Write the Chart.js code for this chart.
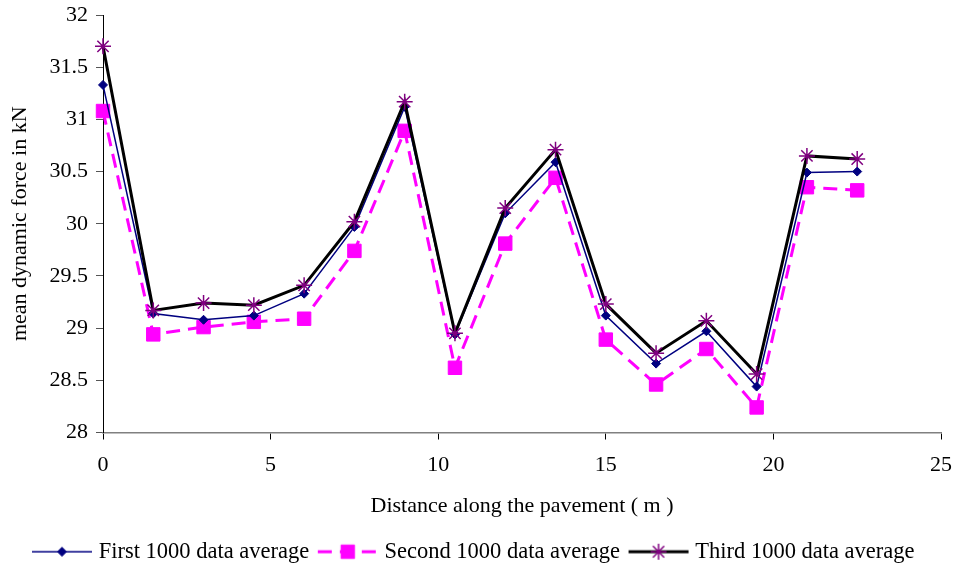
<!DOCTYPE html>
<html>
<head>
<meta charset="utf-8">
<title>mean dynamic force</title>
<script src="https://cdn.jsdelivr.net/npm/chart.js@4.4.1/dist/chart.umd.min.js"></script>
<style>
  html, body { margin: 0; padding: 0; background: #fff; }
  #wrap { width: 954px; height: 565px; }
</style>
</head>
<body>
<div id="wrap"><canvas id="forceChart" width="954" height="565"></canvas></div>
<script>
// values
const distances = [0, 1.5, 3, 4.5, 6, 7.5, 9, 10.5, 12, 13.5, 15, 16.5, 18, 19.5, 21, 22.5];
const firstAverage = [31.33, 29.14, 29.08, 29.12, 29.33, 29.97, 31.12, 28.94, 30.10, 30.59, 29.12, 28.66, 28.97, 28.44, 30.49, 30.50];
const secondAverage = [31.08, 28.94, 29.01, 29.06, 29.09, 29.74, 30.89, 28.62, 29.81, 30.44, 28.89, 28.46, 28.80, 28.24, 30.35, 30.32];
const thirdAverage = [31.70, 29.17, 29.24, 29.22, 29.41, 30.02, 31.17, 28.95, 30.15, 30.71, 29.23, 28.76, 29.07, 28.56, 30.65, 30.62];
const seriesNames = ['First 1000 data average', 'Second 1000 data average', 'Third 1000 data average'];
const yRange = [28, 32];
const xRange = [0, 25];

const FONT = 'Liberation Serif, Times New Roman, serif';

function toPoints(values) {
    return distances.map((d, i) => ({ x: d, y: values[i] }));
}

// small picture of line + marker for the legend
function legendSample(ds) {
    const c = document.createElement('canvas');
    c.width = 72;
    c.height = 22;
    const g = c.getContext('2d');
    g.strokeStyle = ds.borderColor;
    g.lineWidth = ds.borderWidth;
    g.setLineDash(ds.borderDash || []);
    g.beginPath();
    g.moveTo(11, 11);
    g.lineTo(71, 11);
    g.stroke();
    g.setLineDash([]);
    g.fillStyle = ds.pointBackgroundColor;
    g.strokeStyle = ds.pointBorderColor;
    g.lineWidth = ds.pointBorderWidth;
    Chart.helpers.drawPoint(g, {
        pointStyle: ds.pointStyle,
        radius: ds.pointRadius,
        borderWidth: ds.pointBorderWidth,
        rotation: 0
    }, 41, 11);
    return c;
}

const datasets = [
    {
        label: seriesNames[0],
        data: toPoints(firstAverage),
        borderColor: '#000080',
        borderWidth: 1.5,
        pointStyle: 'rectRot',
        pointRadius: 4.5,
        pointBorderWidth: 1,
        pointBackgroundColor: '#000080',
        pointBorderColor: '#000080',
        order: 1
    },
    {
        label: seriesNames[1],
        data: toPoints(secondAverage),
        borderColor: '#ff00ff',
        borderWidth: 3,
        borderDash: [14, 8],
        pointStyle: 'rect',
        pointRadius: 9.5,
        pointBorderWidth: 1,
        pointBackgroundColor: '#ff00ff',
        pointBorderColor: '#ff00ff',
        order: 2
    },
    {
        label: seriesNames[2],
        data: toPoints(thirdAverage),
        borderColor: '#000000',
        borderWidth: 3,
        pointStyle: 'star',
        pointRadius: 8,
        pointBorderWidth: 1.5,
        pointBackgroundColor: '#800080',
        pointBorderColor: '#800080',
        order: 0
    }
];

datasets.forEach(ds => {
    ds.fill = false;
    ds.tension = 0;
    ds.clip = false;
    ds.pointHoverRadius = ds.pointRadius;
});

const ctx = document.getElementById('forceChart').getContext('2d');
new Chart(ctx, {
    type: 'line',
    data: { datasets: datasets },
    options: {
        responsive: false,
        animation: false,
        layout: { padding: { top: 15, right: 13, left: 0, bottom: -8 } },
        scales: {
            x: {
                type: 'linear',
                min: xRange[0],
                max: xRange[1],
                afterFit(scale) {
                    scale.height = 105;
                    scale.paddingLeft = 0;
                    scale.paddingRight = 0;
                },
                ticks: {
                    stepSize: 5,
                    padding: 13,
                    color: '#000',
                    font: { family: FONT, size: 22 }
                },
                grid: {
                    drawOnChartArea: false,
                    drawTicks: true,
                    tickLength: 7,
                    color: '#000'
                },
                border: { color: '#808080', width: 1.5 },
                title: {
                    display: true,
                    text: 'Distance along the pavement ( m )',
                    color: '#000',
                    font: { family: FONT, size: 22 },
                    padding: { top: 0, bottom: 18 }
                }
            },
            y: {
                min: yRange[0],
                max: yRange[1],
                afterFit(scale) {
                    scale.width = 103;
                    scale.paddingTop = 0;
                    scale.paddingBottom = 0;
                },
                ticks: {
                    stepSize: 0.5,
                    padding: 8,
                    color: '#000',
                    font: { family: FONT, size: 22 },
                    callback: value => String(value)
                },
                grid: {
                    drawOnChartArea: false,
                    drawTicks: true,
                    tickLength: 7,
                    color: '#555'
                },
                border: { color: '#000', width: 1 },
                title: {
                    display: true,
                    text: 'mean dynamic force in kN',
                    color: '#000',
                    font: { family: FONT, size: 22 },
                    padding: { top: 7, bottom: 0 }
                }
            }
        },
        plugins: {
            tooltip: { enabled: false },
            legend: {
                position: 'bottom',
                labels: {
                    usePointStyle: true,
                    pointStyleWidth: 61,
                    padding: 3,
                    color: '#000',
                    font: { family: FONT, size: 22.5 },
                    generateLabels(chart) {
                        return chart.data.datasets.map((ds, i) => ({
                            text: ds.label,
                            pointStyle: legendSample(ds),
                            fillStyle: ds.borderColor,
                            strokeStyle: ds.borderColor,
                            lineWidth: 0,
                            fontColor: '#000',
                            hidden: false,
                            datasetIndex: i
                        }));
                    }
                }
            }
        }
    }
});
</script>
</body>
</html>
